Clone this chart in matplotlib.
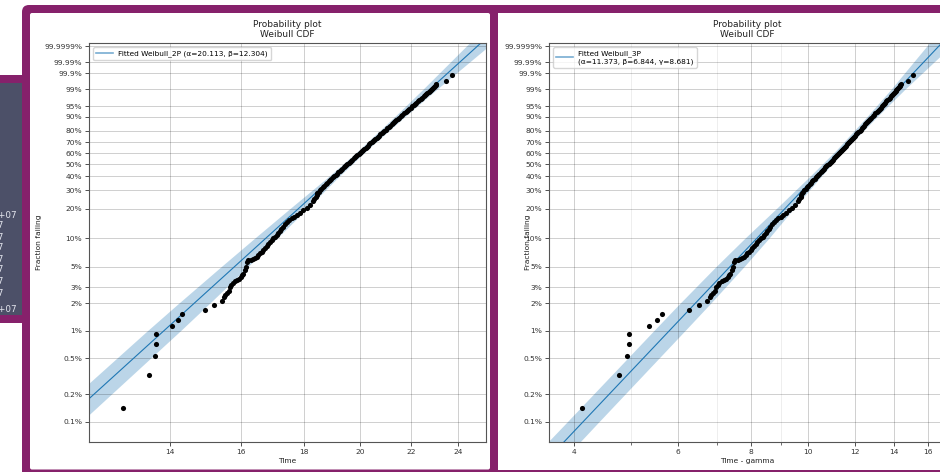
import matplotlib
matplotlib.use('Agg')
import numpy as np
import matplotlib.pyplot as plt
from matplotlib.patches import Rectangle, FancyBboxPatch
from matplotlib.lines import Line2D
from matplotlib.ticker import FixedLocator, FixedFormatter, NullFormatter, NullLocator

# failure times and their plotted fraction failing (%)
fail_times = [12.81, 13.45, 13.60, 13.65, 13.65, 14.05, 14.21, 14.33, 14.95, 15.20,
              15.42, 15.49, 15.53, 15.57, 15.63, 15.66, 15.70, 15.75, 15.81, 15.87,
              15.93, 15.98, 16.02, 16.05, 16.10, 16.13, 16.16, 16.20, 16.28, 16.35,
              16.41, 16.47, 16.52, 16.57, 16.62, 16.67, 16.72, 16.78, 16.83, 16.88,
              16.94, 16.99, 17.05, 17.10, 17.15, 17.20, 17.25, 17.29, 17.35, 17.42,
              17.50, 17.58, 17.66, 17.75, 17.86, 17.97, 18.08, 18.20, 18.30, 18.35,
              18.40, 18.42, 18.45, 18.49, 18.54, 18.59, 18.64, 18.69, 18.74, 18.79,
              18.84, 18.89, 18.94, 18.99, 19.04, 19.09, 19.14, 19.19, 19.24, 19.28,
              19.33, 19.38, 19.42, 19.47, 19.52, 19.57, 19.61, 19.66, 19.70, 19.75,
              19.80, 19.84, 19.88, 19.93, 19.97, 20.02, 20.06, 20.10, 20.15, 20.19,
              20.24, 20.28, 20.33, 20.37, 20.42, 20.46, 20.51, 20.56, 20.61, 20.66,
              20.71, 20.76, 20.81, 20.86, 20.92, 20.97, 21.02, 21.08, 21.14, 21.20,
              21.25, 21.29, 21.34, 21.39, 21.45, 21.50, 21.56, 21.62, 21.69, 21.76,
              21.81, 21.86, 21.92, 21.97, 22.03, 22.09, 22.15, 22.21, 22.27, 22.33,
              22.39, 22.45, 22.51, 22.56, 22.61, 22.67, 22.72, 22.77, 22.82, 22.87,
              22.92, 22.96, 22.99, 23.02, 23.06, 23.47, 23.74]
fail_pct = [0.14, 0.33, 0.53, 0.72, 0.92, 1.12, 1.31, 1.51, 1.70, 1.90,
            2.10, 2.33, 2.45, 2.60, 2.75, 3.0, 3.15, 3.3, 3.5, 3.6,
            3.7, 3.9, 4.05, 4.2, 4.6, 5.0, 5.6, 5.9, 5.95, 6.0,
            6.2, 6.4, 6.7, 6.95, 7.2, 7.5, 7.9, 8.3, 8.8, 9.2,
            9.6, 10.0, 10.4, 10.8, 11.4, 12.0, 12.6, 13.2, 14.0, 14.8,
            15.4, 16.0, 16.6, 17.3, 18.3, 19.4, 20.5, 21.6, 23.5, 24.8,
            26.1, 27, 28, 29, 30, 31, 32, 33, 34, 35,
            36, 37, 38, 39, 40, 41, 42, 43, 44, 45,
            46, 47, 48, 49, 50, 51, 52, 53, 54, 55,
            56, 57, 58, 59, 60, 61, 62, 63, 64, 65,
            66, 67, 68, 69, 70, 71, 72, 73, 74, 75,
            76, 77, 78, 79, 80, 81, 82, 83, 84, 85,
            85.8, 86.5, 87.3, 88, 88.8, 89.5, 90.3, 91, 91.8, 92.5,
            93, 93.5, 94, 94.5, 95, 95.5, 95.9, 96.3, 96.7, 97,
            97.3, 97.6, 97.9, 98.1, 98.3, 98.5, 98.65, 98.8, 98.95, 99.05,
            99.15, 99.25, 99.33, 99.4, 99.5, 99.67, 99.86]

# fitted parameters (from the legends)
alpha_2p, beta_2p = 20.113, 12.304
alpha_3p, beta_3p, gamma_3p = 11.373, 6.844, 8.681

# confidence band half width (in ln time) at some fractions
band_pct = [0.05, 0.1, 1, 2, 5, 10, 20, 40, 63, 90, 99, 99.99, 99.99999]
band_half_2p = [0.034, 0.033, 0.031, 0.029, 0.025, 0.021, 0.016, 0.0095, 0.0075, 0.0095, 0.013, 0.018, 0.022]
band_half_3p = [0.063, 0.062, 0.061, 0.060, 0.055, 0.047, 0.034, 0.022, 0.016, 0.020, 0.027, 0.040, 0.050]

ytick_vals = [0.001, 0.002, 0.005, 0.01, 0.02, 0.03, 0.05, 0.1, 0.2, 0.3, 0.4, 0.5,
              0.6, 0.7, 0.8, 0.9, 0.95, 0.99, 0.999, 0.9999, 0.999999]
ytick_labels = ['0.1%', '0.2%', '0.5%', '1%', '2%', '3%', '5%', '10%', '20%', '30%', '40%', '50%',
                '60%', '70%', '80%', '90%', '95%', '99%', '99.9%', '99.99%', '99.9999%']
xticks_2p = [14, 16, 18, 20, 22, 24]
xticks_3p = [4, 6, 8, 10, 12, 14, 16]
xminor_3p = [5, 7, 9]

PURPLE = '#86216b'
SLATE = '#4c5068'
FS = 5.4


def weib_fwd(p):
    with np.errstate(all='ignore'):
        return np.log(-np.log1p(-np.asarray(p, dtype=float)))


def weib_inv(y):
    with np.errstate(all='ignore'):
        return -np.expm1(-np.exp(np.asarray(y, dtype=float)))


def fit_time(F, a, b):
    # time at fraction F for the fitted weibull (minus gamma for 3P)
    return a * (-np.log1p(-F)) ** (1.0 / b)


fig = plt.figure(figsize=(9.4, 4.72), dpi=100)
fig.patch.set_facecolor('white')

# page background: purple frames and the dark panel at the left
bg = fig.add_axes([0, 0, 1, 1], zorder=-10)
bg.set_xlim(0, 940)
bg.set_ylim(472, 0)
bg.axis('off')
bg.add_patch(FancyBboxPatch((22, 5), 960, 500, boxstyle='round,pad=0,rounding_size=7',
                            fc=PURPLE, ec='none'))
bg.add_patch(FancyBboxPatch((30, 13), 460, 456.5, boxstyle='round,pad=0,rounding_size=2',
                            fc='white', ec='none'))
bg.add_patch(Rectangle((498, 13), 460, 456.5, fc='white', ec='none'))
bg.add_patch(Rectangle((0, 75), 23, 8, fc=PURPLE, ec='none'))
bg.add_patch(Rectangle((0, 83), 22, 232, fc=SLATE, ec='none'))
bg.add_patch(Rectangle((0, 315), 23, 8, fc=PURPLE, ec='none'))
for yy, txt, xx in [(215, '2.5e+07', 17), (226, '1e+07', 3.5), (237, '1e+07', 3.5),
                    (248, '1e+07', 3.5), (259, '1e+07', 3.5), (270, '1e+07', 3.5),
                    (281, '1e+07', 3.5), (293, '1e+07', 3.5), (309, '2.5e+07', 17)]:
    bg.text(xx, yy, txt, ha='right', va='center', color='#e4e6ee', fontsize=6.3)


def prob_plot(rect, xs, xlim, xticks, xminor, a, b, band_half, label, xlabel, ylab_x):
    ax = fig.add_axes(rect)
    ax.set_xscale('log')
    ax.set_yscale('function', functions=(weib_fwd, weib_inv))

    F_band = np.array(band_pct) / 100
    xf = fit_time(F_band, a, b)
    h = np.array(band_half)
    ax.fill_betweenx(F_band, xf * np.exp(-h), xf * np.exp(h), color='#1f77b4', alpha=0.3, lw=0, zorder=1)
    ax.plot(xf, F_band, color='#1f77b4', lw=0.8, zorder=2)
    ax.plot(xs, np.array(fail_pct) / 100, 'o', color='k', ms=3.7, mew=0, zorder=3)

    ax.set_xlim(*xlim)
    ax.set_ylim(0.000598, 0.99999968)
    ax.yaxis.set_major_locator(FixedLocator(ytick_vals))
    ax.yaxis.set_major_formatter(FixedFormatter(ytick_labels))
    ax.yaxis.set_minor_locator(NullLocator())
    ax.xaxis.set_major_locator(FixedLocator(xticks))
    ax.xaxis.set_major_formatter(FixedFormatter([str(v) for v in xticks]))
    if xminor:
        ax.xaxis.set_minor_locator(FixedLocator(xminor))
    else:
        ax.xaxis.set_minor_locator(NullLocator())
    ax.xaxis.set_minor_formatter(NullFormatter())

    ax.grid(True, which='major', color='k', alpha=0.22, lw=0.6)
    ax.grid(True, which='minor', color='k', alpha=0.08, lw=0.6)
    ax.tick_params(which='major', labelsize=FS, length=3, width=0.6, pad=2, colors='#333333')
    ax.tick_params(which='minor', length=2, width=0.5, colors='#333333')
    for s in ax.spines.values():
        s.set_color('#555555')
        s.set_linewidth(0.8)

    ax.set_title('Probability plot\nWeibull CDF', fontsize=6.5, pad=4, color='#222222')
    ax.set_xlabel(xlabel, fontsize=FS, color='#222222')
    ax.xaxis.set_label_coords(0.5, -0.039)
    ax.set_ylabel('Fraction failing', fontsize=FS, color='#222222')
    ax.yaxis.set_label_coords(ylab_x, 0.5)

    handle = Line2D([], [], color='#1f77b4', alpha=0.6, lw=1.2)
    ax.legend([handle], [label], loc='upper left', fontsize=5.3, handlelength=2.2,
              borderpad=0.4, framealpha=0.8, edgecolor='#cccccc', borderaxespad=0.6)
    return ax


t = np.array(fail_times)
prob_plot([89 / 940, 30 / 472, 397 / 940, 399 / 472], t, (12.03, 25.30),
          xticks_2p, None, alpha_2p, beta_2p, band_half_2p,
          'Fitted Weibull_2P (\u03b1=20.113, \u03b2=12.304)', 'Time', -0.118)
prob_plot([549 / 940, 30 / 472, 397 / 940, 399 / 472], t - gamma_3p, (3.627, 17.165),
          xticks_3p, xminor_3p, alpha_3p, beta_3p, band_half_3p,
          'Fitted Weibull_3P\n(\u03b1=11.373, \u03b2=6.844, \u03b3=8.681)', 'Time - gamma', -0.045)

fig.savefig('out.png', dpi=100)
